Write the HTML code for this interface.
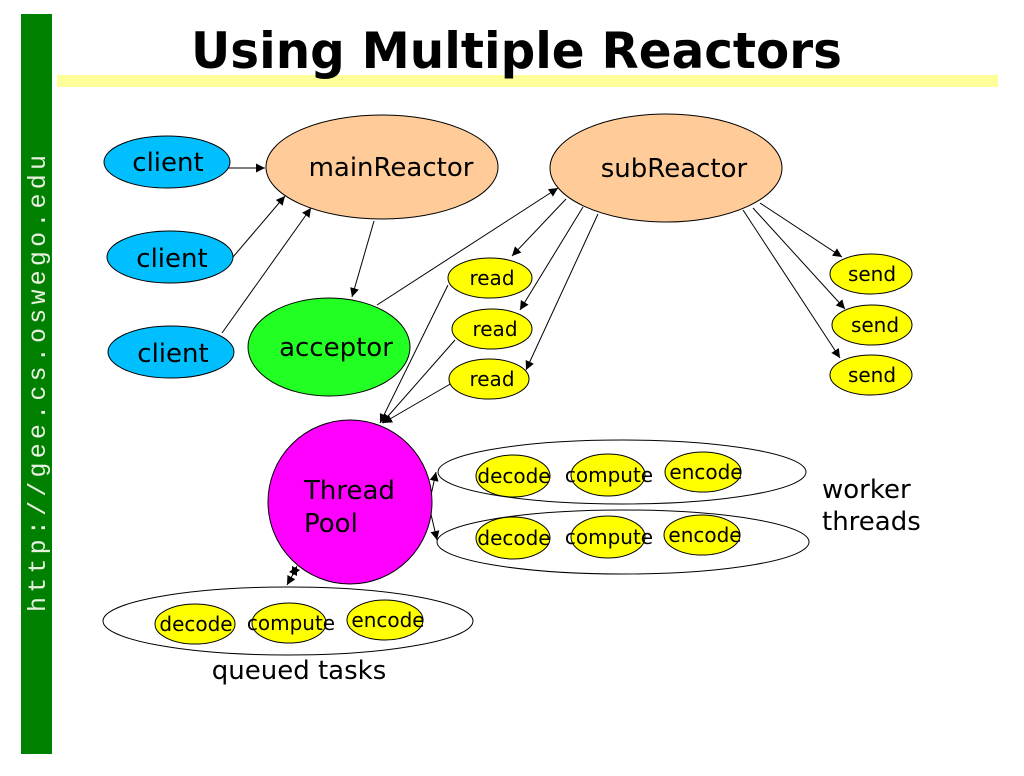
<!DOCTYPE html>
<html><head><meta charset="utf-8"><style>
html,body{margin:0;padding:0;background:#fff;width:1024px;height:776px;overflow:hidden}
svg{display:block}
text{font-family:"DejaVu Sans","Liberation Sans",sans-serif;fill:#000}
</style></head><body>
<svg width="1024" height="776" viewBox="0 0 1024 776" xmlns="http://www.w3.org/2000/svg">
<defs>
<marker id="a" viewBox="0 0 10 10" refX="10" refY="5" markerWidth="9" markerHeight="9" markerUnits="userSpaceOnUse" orient="auto-start-reverse"><path d="M0,0L10,5L0,10z" fill="#000"/></marker>
</defs>
<rect x="21" y="14" width="31" height="740" fill="#008000"/>
<text transform="translate(45,612) rotate(-90)" style="font-family:'Liberation Mono',monospace;font-size:25px;fill:#e8f0e0" textLength="457">http://gee.cs.oswego.edu</text>
<rect x="57" y="75" width="941" height="12" fill="#ffff99"/>
<text x="191" y="68" textLength="651" lengthAdjust="spacingAndGlyphs" style="font-family:'DejaVu Sans','Liberation Sans',sans-serif;font-size:50px;font-weight:bold">Using Multiple Reactors</text>

<g stroke="#000" stroke-width="1" fill="none" marker-end="url(#a)">
<line x1="221" y1="168" x2="265" y2="168"/>
<line x1="233" y1="257" x2="285" y2="196"/>
<line x1="222" y1="333" x2="311" y2="208"/>
<line x1="374" y1="221" x2="352" y2="297"/>
<line x1="377" y1="305" x2="558" y2="188"/>
<line x1="566" y1="199" x2="512" y2="256"/>
<line x1="583" y1="207" x2="520" y2="310"/>
<line x1="598" y1="214" x2="526" y2="370"/>
<line x1="760" y1="203" x2="842" y2="257"/>
<line x1="753" y1="208" x2="845" y2="309"/>
<line x1="743" y1="210" x2="840" y2="358"/>
<line x1="448" y1="285" x2="380" y2="423"/>
<line x1="455" y1="340" x2="382" y2="423"/>
<line x1="452" y1="383" x2="383" y2="423"/>
<line x1="430" y1="500" x2="436" y2="472"/>
<line x1="430" y1="510" x2="437" y2="540"/>
<line x1="292" y1="576" x2="297" y2="566" marker-start="url(#a)"/>
<line x1="292" y1="576" x2="287" y2="585"/>
</g>

<g stroke="#000" stroke-width="1">
<ellipse cx="167" cy="162" rx="63" ry="26" fill="#00bfff"/>
<ellipse cx="170" cy="257" rx="63" ry="26" fill="#00bfff"/>
<ellipse cx="171" cy="352" rx="63" ry="26" fill="#00bfff"/>
<ellipse cx="382" cy="167" rx="116" ry="52" fill="#ffcc99"/>
<ellipse cx="666" cy="168" rx="116" ry="54" fill="#ffcc99"/>
<ellipse cx="329" cy="347" rx="81" ry="49" fill="#22ff22"/>
<ellipse cx="490" cy="278" rx="42" ry="20" fill="#ffff00"/>
<ellipse cx="492" cy="329" rx="40" ry="20" fill="#ffff00"/>
<ellipse cx="489" cy="379" rx="40" ry="20" fill="#ffff00"/>
<ellipse cx="871" cy="274" rx="41" ry="20" fill="#ffff00"/>
<ellipse cx="872" cy="325" rx="40" ry="20" fill="#ffff00"/>
<ellipse cx="871" cy="375" rx="41" ry="20" fill="#ffff00"/>
<ellipse cx="350" cy="502" rx="82" ry="82" fill="#ff00ff"/>
<ellipse cx="622" cy="472" rx="184" ry="32" fill="none"/>
<ellipse cx="623" cy="542" rx="186" ry="32" fill="none"/>
<ellipse cx="288" cy="621" rx="185" ry="34" fill="none"/>
<g fill="#ffff00">
<ellipse cx="513" cy="476" rx="37" ry="21"/>
<ellipse cx="608" cy="475" rx="37" ry="21"/>
<ellipse cx="703" cy="472" rx="38" ry="20"/>
<ellipse cx="513" cy="538" rx="37" ry="21"/>
<ellipse cx="608" cy="537" rx="37" ry="21"/>
<ellipse cx="702" cy="535" rx="38" ry="20"/>
<ellipse cx="195" cy="624" rx="40" ry="20"/>
<ellipse cx="289" cy="623" rx="37" ry="20"/>
<ellipse cx="385" cy="620" rx="38" ry="20"/>
</g>
</g>

<g style="font-size:26px">
<text x="168" y="171" text-anchor="middle">client</text>
<text x="172" y="267" text-anchor="middle">client</text>
<text x="173" y="362" text-anchor="middle">client</text>
<text x="391" y="176" text-anchor="middle">mainReactor</text>
<text x="674" y="177" text-anchor="middle">subReactor</text>
<text x="336" y="356" text-anchor="middle">acceptor</text>
<text x="304" y="499">Thread</text>
<text x="304" y="532">Pool</text>
<text x="822" y="498">worker</text>
<text x="822" y="530">threads</text>
<text x="299" y="679" text-anchor="middle">queued tasks</text>
</g>
<g style="font-size:20px" text-anchor="middle">
<text x="492" y="285">read</text>
<text x="495" y="336">read</text>
<text x="492" y="386">read</text>
<text x="872" y="281">send</text>
<text x="875" y="332">send</text>
<text x="872" y="382">send</text>
<text x="514" y="483">decode</text>
<text x="609" y="482">compute</text>
<text x="706" y="479">encode</text>
<text x="514" y="545">decode</text>
<text x="609" y="544">compute</text>
<text x="705" y="542">encode</text>
<text x="196" y="631">decode</text>
<text x="291" y="630">compute</text>
<text x="388" y="627">encode</text>
</g>
</svg>
</body></html>
